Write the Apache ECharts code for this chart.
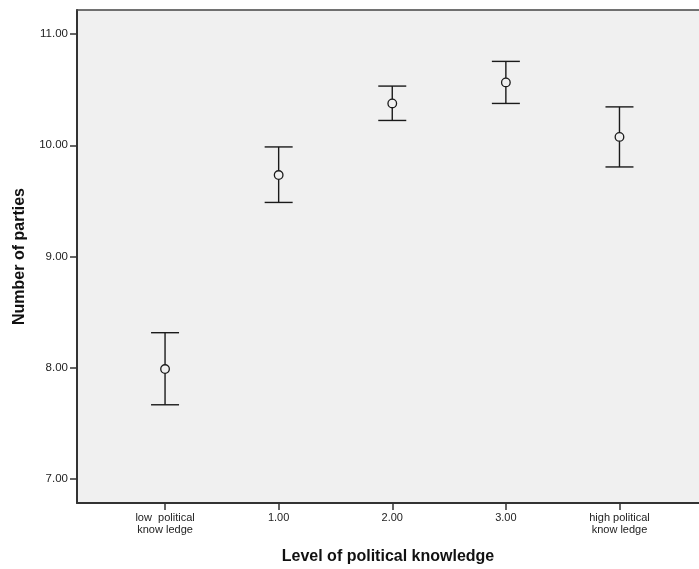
<!DOCTYPE html>
<html>
<head>
<meta charset="utf-8">
<script src="https://cdn.jsdelivr.net/npm/echarts@6/dist/echarts.min.js"></script>
<style>html,body{margin:0;padding:0;background:#fff;}#c{width:699px;height:569px;}</style>
</head>
<body>
<div id="c"></div>
<script>
const categories = ['low  political\nknow ledge', '1.00', '2.00', '3.00', 'high political\nknow ledge'];
const means = [7.988, 9.732, 10.376, 10.565, 10.075];
const lower = [7.667, 9.486, 10.223, 10.376, 9.805];
const upper = [8.315, 9.985, 10.532, 10.754, 10.345];
const yTicks = [7, 8, 9, 10, 11];
const xTicks = [0, 1, 2, 3, 4];

const chart = echarts.init(document.getElementById('c'), null, {renderer: 'canvas'});
const data = categories.map((c, i) => [i, means[i], lower[i], upper[i]]);
const font = 'Liberation Sans, Arial, sans-serif';

chart.setOption({
  animation: false,
  backgroundColor: '#ffffff',
  grid: {
    left: 77, right: 0, top: 10, bottom: 66,
    outerBoundsMode: 'none', containLabel: false,
    show: true, backgroundColor: '#f0f0f0', borderWidth: 0
  },
  xAxis: [{
    type: 'value', min: -0.775, max: 4.70,
    name: 'Level of political knowledge', nameLocation: 'middle', nameGap: 46,
    nameTextStyle: {fontFamily: font, fontWeight: 'bold', fontSize: 16, color: '#111'},
    axisLine: {show: true, onZero: false, lineStyle: {color: '#333', width: 2}},
    axisTick: {show: true, length: 7, customValues: xTicks, lineStyle: {color: '#333', width: 1.5}},
    axisLabel: {
      customValues: xTicks, margin: 9, fontFamily: font, fontSize: 11, color: '#222', lineHeight: 12,
      formatter: v => categories[Math.round(v)]
    },
    splitLine: {show: false}
  }, {
    type: 'value', position: 'top', min: -0.775, max: 4.70,
    axisLine: {show: true, onZero: false, lineStyle: {color: '#444', width: 1.5}},
    axisTick: {show: false}, axisLabel: {show: false}, splitLine: {show: false}
  }],
  yAxis: {
    type: 'value', min: 6.784, max: 11.216,
    name: 'Number of parties', nameLocation: 'middle', nameGap: 49,
    nameTextStyle: {fontFamily: font, fontWeight: 'bold', fontSize: 16, color: '#111'},
    axisLine: {show: true, onZero: false, lineStyle: {color: '#333', width: 2}},
    axisTick: {show: true, length: 7, customValues: yTicks, lineStyle: {color: '#333', width: 1.5}},
    axisLabel: {
      customValues: yTicks, margin: 9, fontFamily: font, fontSize: 11.5, color: '#222',
      formatter: v => v.toFixed(2)
    },
    splitLine: {show: false}
  },
  series: [{
    type: 'custom',
    data: data,
    renderItem: function (params, api) {
      const x = api.value(0);
      const pm = api.coord([x, api.value(1)]);
      const pl = api.coord([x, api.value(2)]);
      const pu = api.coord([x, api.value(3)]);
      const hw = 14, r = 4.3;
      const st = {stroke: '#1a1a1a', lineWidth: 1.4, fill: null};
      return {
        type: 'group',
        children: [
          {type: 'line', shape: {x1: pu[0], y1: pu[1], x2: pm[0], y2: pm[1] - r}, style: st},
          {type: 'line', shape: {x1: pm[0], y1: pm[1] + r, x2: pl[0], y2: pl[1]}, style: st},
          {type: 'line', shape: {x1: pu[0] - hw, y1: pu[1], x2: pu[0] + hw, y2: pu[1]}, style: st},
          {type: 'line', shape: {x1: pl[0] - hw, y1: pl[1], x2: pl[0] + hw, y2: pl[1]}, style: st},
          {type: 'circle', shape: {cx: pm[0], cy: pm[1], r: r}, style: {stroke: '#1a1a1a', lineWidth: 1.3, fill: 'rgba(0,0,0,0)'}}
        ]
      };
    }
  }]
});
</script>
</body>
</html>
